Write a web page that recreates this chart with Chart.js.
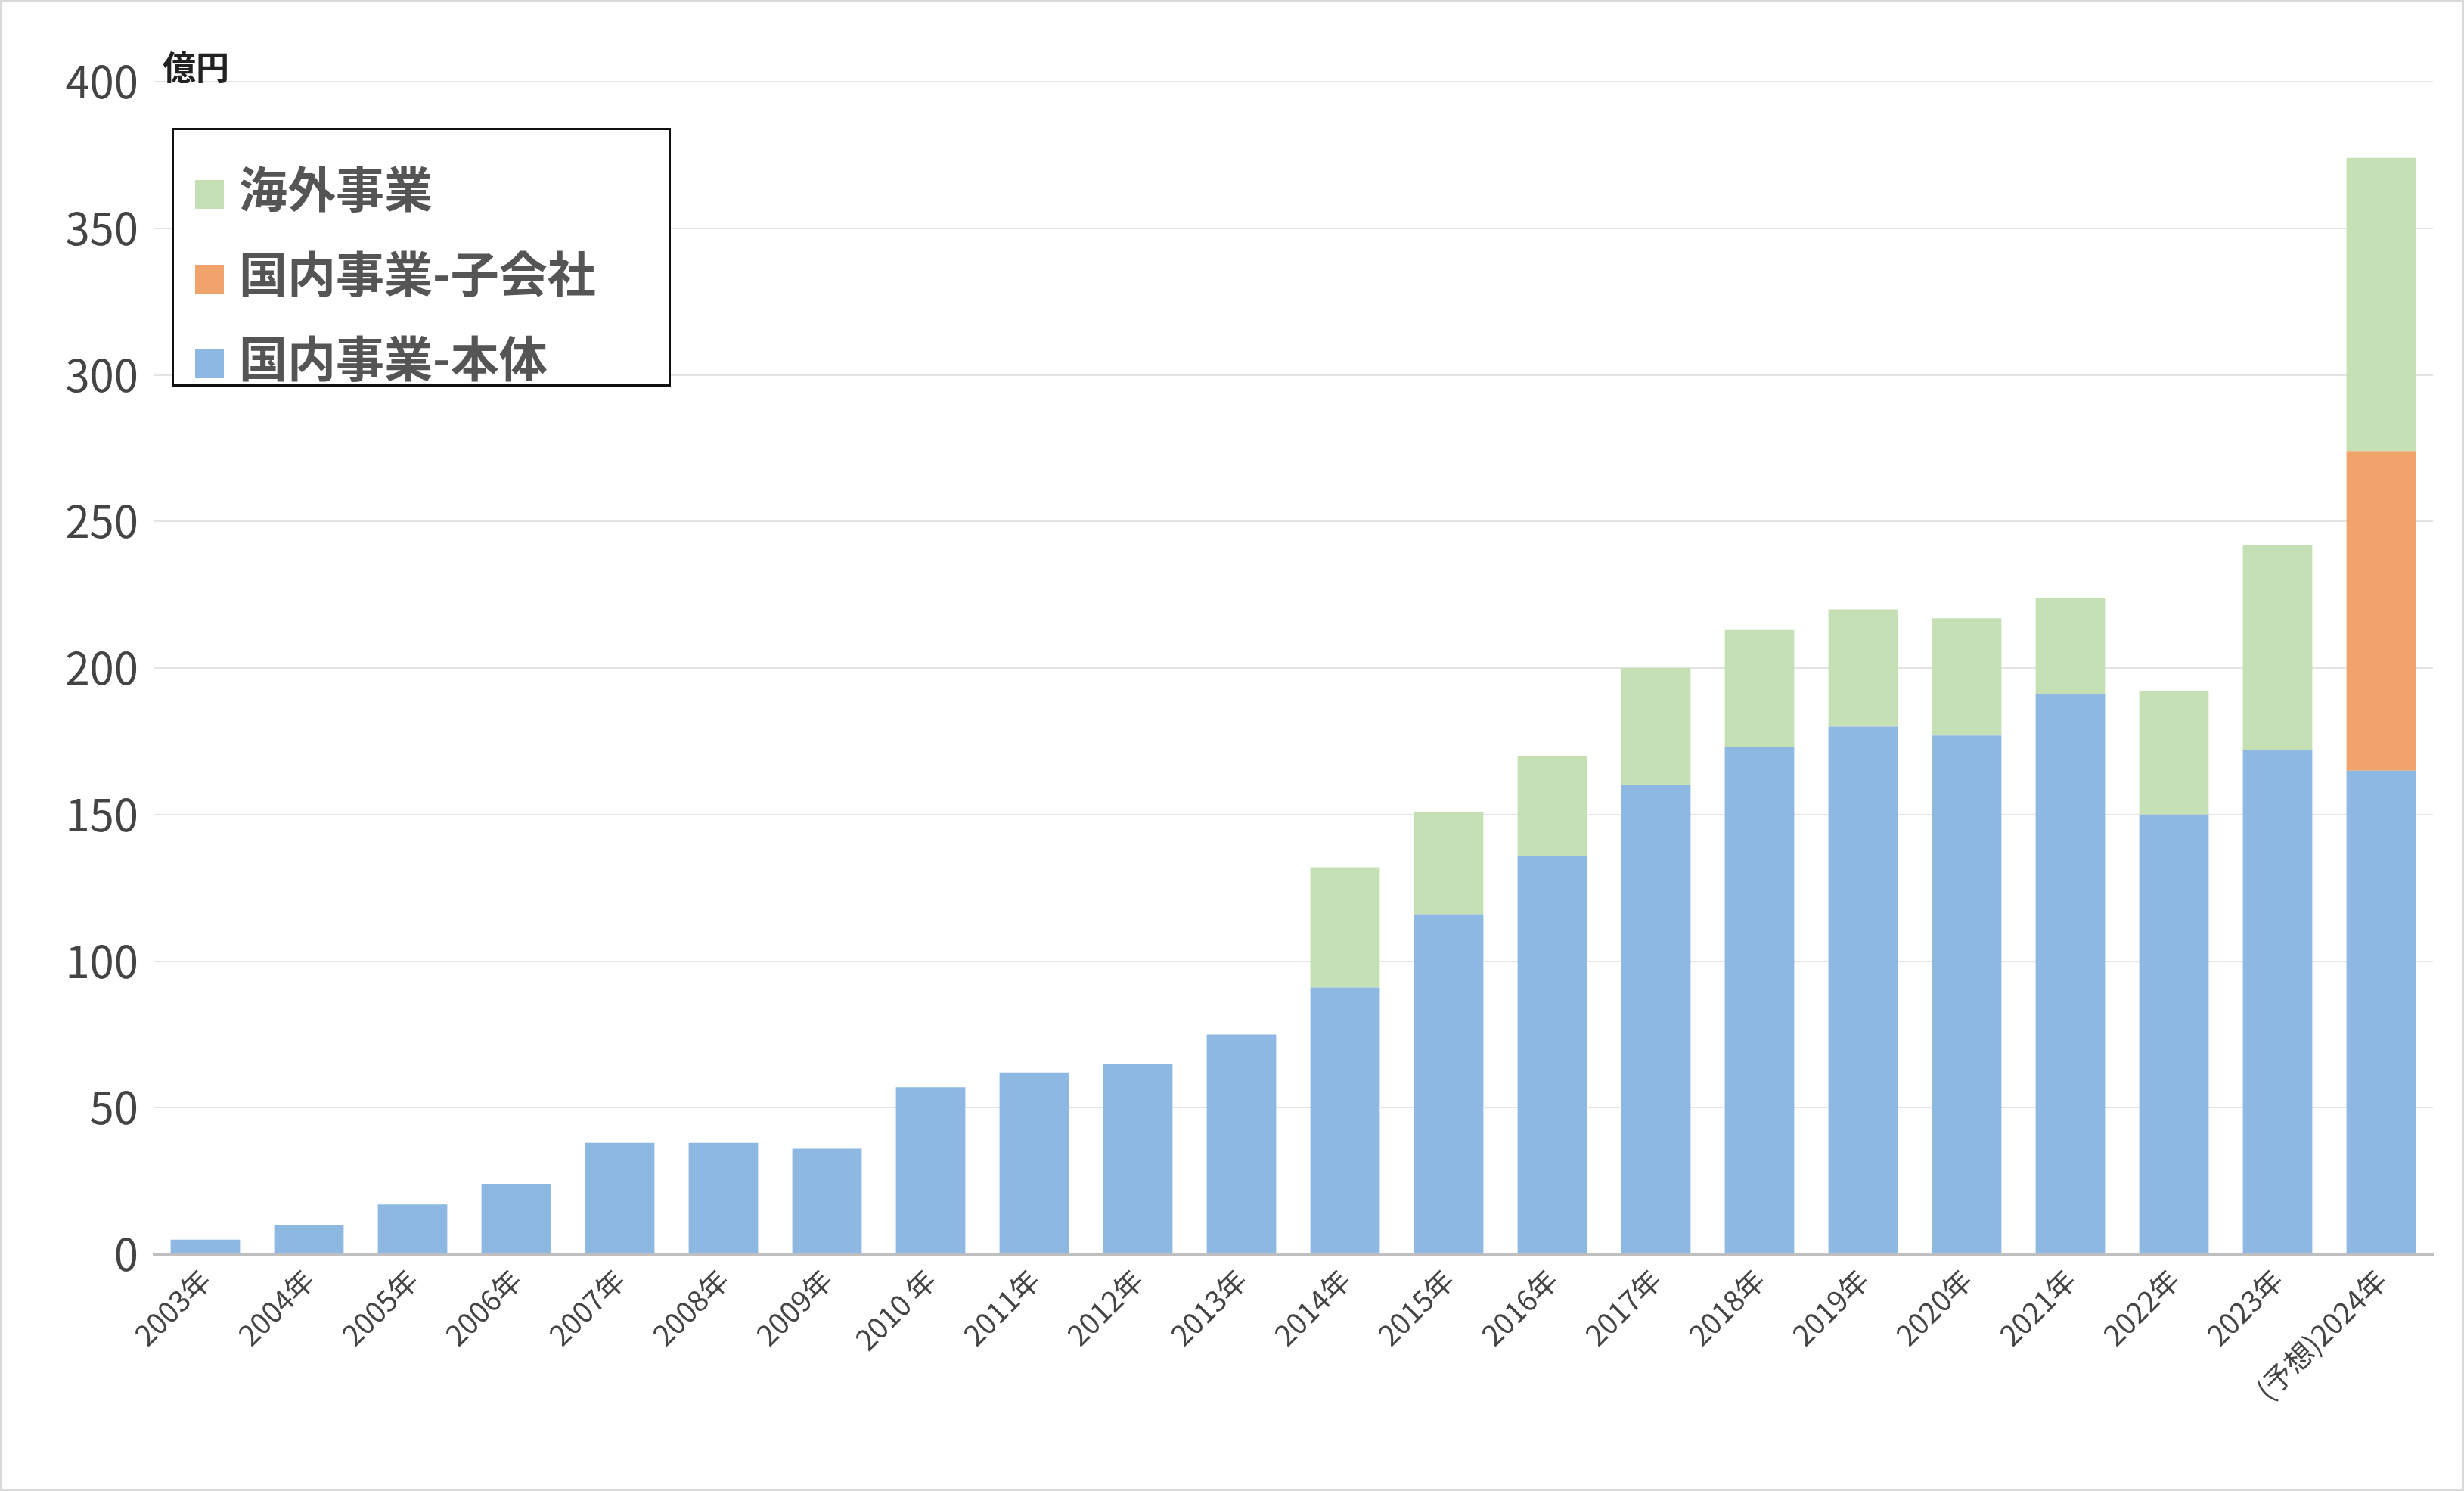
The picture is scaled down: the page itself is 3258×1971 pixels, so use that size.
<!DOCTYPE html>
<html lang="ja">
<head>
<meta charset="UTF-8">
<title>売上推移</title>
<script src="https://cdn.jsdelivr.net/npm/chart.js"></script>
<style>
* { margin: 0; padding: 0; box-sizing: border-box; }
body { background: #fff; font-family: 'Noto Sans CJK JP', sans-serif; }
.wrap { position: relative; width: 3258px; height: 1971px; border: 3px solid #d9d9d9; }
.unit { position: absolute; left: 212px; top: 52px; font-size: 44px; font-weight: bold; color: #222; }
.legend { position: absolute; left: 224px; top: 166px; width: 660px; height: 342px; border: 3px solid #111; background: #fff; padding: 18px 0 0 28px; }
.legend div { font-size: 64px; font-weight: bold; color: #555; height: 112px; line-height: 112px; }
.legend span { display: inline-block; width: 38px; height: 38px; margin-right: 20px; vertical-align: middle; }
</style>
</head>
<body>
<div class="wrap">
  <canvas id="c" width="3252" height="1965"></canvas>
  <div class="unit">億円</div>
  <div class="legend" id="legend"></div>
</div>
<script>
const labels = ['2003年','2004年','2005年','2006年','2007年','2008年','2009年','2010 年','2011年','2012年','2013年','2014年','2015年','2016年','2017年','2018年','2019年','2020年','2021年','2022年','2023年','(予想)2024年'];
const honsha = [5, 10, 17, 24, 38, 38, 36, 57, 62, 65, 75, 91, 116, 136, 160, 173, 180, 177, 191, 150, 172, 165];
const kogaisha = [0, 0, 0, 0, 0, 0, 0, 0, 0, 0, 0, 0, 0, 0, 0, 0, 0, 0, 0, 0, 0, 109];
const kaigai = [0, 0, 0, 0, 0, 0, 0, 0, 0, 0, 0, 41, 35, 34, 40, 40, 40, 40, 33, 42, 70, 100];

const datasets = [
    { label: '国内事業-本体', data: honsha, backgroundColor: '#8db8e2' },
    { label: '国内事業-子会社', data: kogaisha, backgroundColor: '#f0a46c' },
    { label: '海外事業', data: kaigai, backgroundColor: '#c5e0b4' }
];
datasets.forEach(d => { d.barPercentage = 1; d.categoryPercentage = 0.67; });

// 凡例は逆順で表示
document.getElementById('legend').innerHTML = datasets.slice().reverse()
    .map(d => `<div><span style="background:${d.backgroundColor}"></span>${d.label}</div>`).join('');

const font = "'Noto Sans CJK JP', sans-serif";
new Chart(document.getElementById('c'), {
    type: 'bar',
    data: { labels: labels, datasets: datasets },
    options: {
        responsive: false,
        animation: false,
        layout: { padding: { left: 10, top: 105, right: 38, bottom: 10 } },
        plugins: { legend: { display: false }, tooltip: { enabled: false } },
        scales: {
            x: {
                stacked: true,
                grid: { display: false },
                border: { color: '#bfbfbf', width: 3 },
                ticks: { color: '#444', font: { family: font, size: 38 }, maxRotation: 45, minRotation: 45, autoSkip: false },
                afterFit: s => { s.height = 300; }
            },
            y: {
                stacked: true,
                min: 0, max: 400,
                ticks: { stepSize: 50, color: '#444', font: { family: font, size: 58 }, padding: 20 },
                grid: { color: '#e4e4e4', lineWidth: 2, drawTicks: false },
                border: { display: false },
                afterFit: s => { s.width = 190; }
            }
        }
    }
});
</script>
</body>
</html>
